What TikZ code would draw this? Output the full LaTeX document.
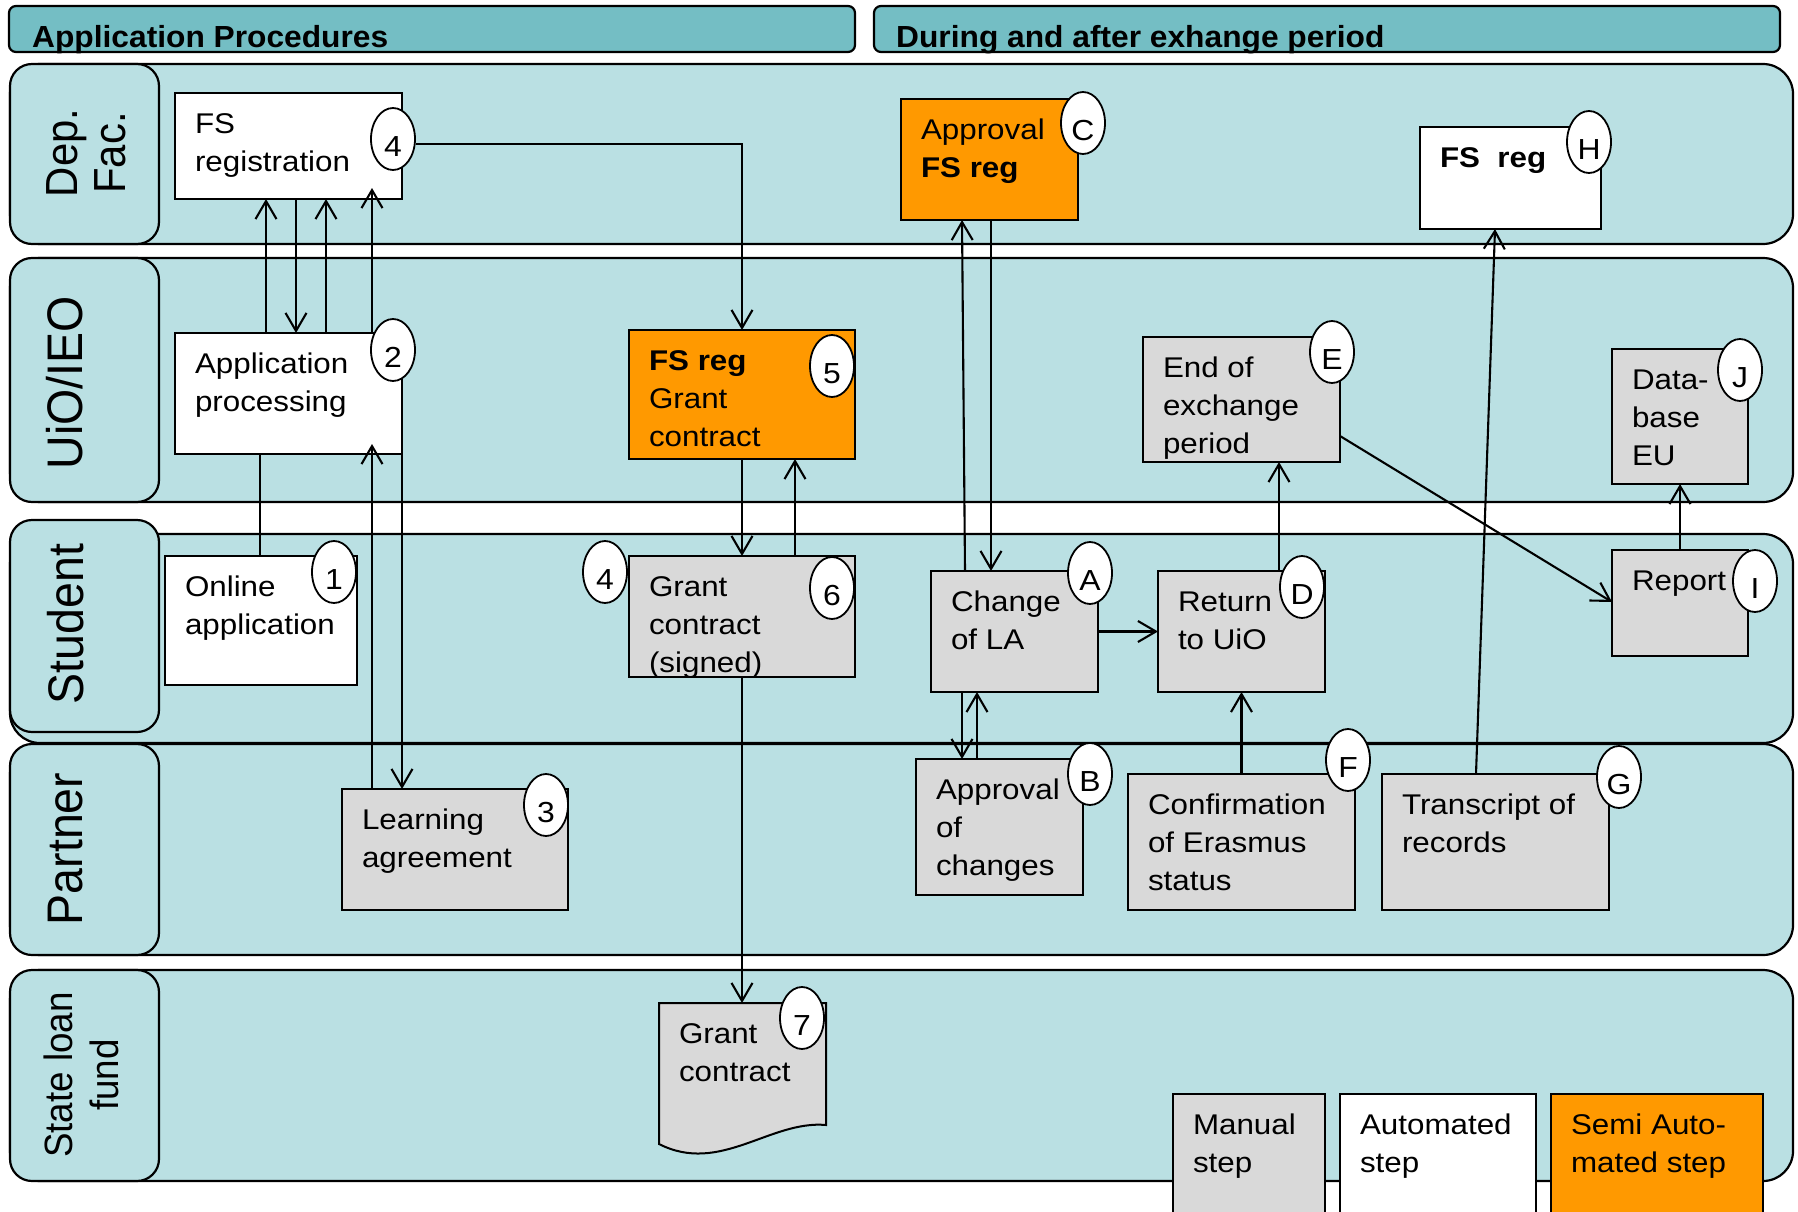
\documentclass[tikz,border=0pt]{standalone}
\usepackage{fontspec}
\setmainfont{Liberation Sans}
\newfontfamily\boxfont{Liberation Sans}[FakeStretch=1.1]
\newfontfamily\rotfont{Liberation Sans}[FakeStretch=0.93]
\newfontfamily\headfont{Liberation Sans}[FakeStretch=1.04]
\usetikzlibrary{arrows.meta,calc,shapes.geometric}
\definecolor{lanec}{HTML}{BAE0E3}
\definecolor{headc}{HTML}{74BEC4}
\definecolor{greyc}{HTML}{D9D9D9}
\definecolor{orangec}{HTML}{FF9900}
\tikzset{
  lane/.style={draw=black, line width=2.2pt, fill=lanec, rounded corners=30pt},
  lbl/.style={draw=black, line width=2.2pt, fill=lanec, rounded corners=22pt},
  head/.style={draw=black, line width=2.2pt, fill=headc, rounded corners=7pt},
  stepbox/.style={draw=black, line width=2pt, inner sep=0pt, outer sep=0pt, anchor=north west},
  txt/.style={anchor=north west, inner sep=0pt, outer sep=0pt, align=left, font=\boxfont\fontsize{28.5}{38}\selectfont},
  badge/.style={ellipse, draw=black, line width=1.8pt, fill=white, inner sep=0pt, minimum width=44pt, minimum height=62pt, font=\boxfont\fontsize{29}{34}\selectfont, text height=34pt, text depth=0pt},
  arr/.style={line width=2.1pt, -{Straight Barb[length=18pt,width=21pt]}},
  ln/.style={line width=2.1pt},
  rotl/.style={rotate=90, inner sep=0pt},
  htext/.style={anchor=base west, inner sep=0pt, font=\headfont\bfseries\fontsize{30.5}{36}\selectfont}
}
\newcommand{\mkbox}[6]{\node[stepbox, fill=#2, minimum width={#5-#3}, minimum height={#6-#4}] (#1) at (#3,#4) {};}
\newcommand{\mktxt}[2]{\node[txt] (#1t) at ([shift={(20,15)}]#1.north west) {\rule{0pt}{25pt}#2};}
\begin{document}
\begin{tikzpicture}[x=1pt,y=-1pt]
\useasboundingbox (0,0) rectangle (1798,1212);
\clip (0,0) rectangle (1798,1212);
% headers
\draw[head] (9,6) rectangle (855,52);
\draw[head] (874,6) rectangle (1780,52);
\node[htext] (hl) at (32,48) {Application Procedures};
\node[htext] (hr) at (896,48) {During and after exhange period};
% lanes
\draw[lane] (10,64) rectangle (1793,244);
\draw[lbl] (10,64) rectangle (159,244);
\draw[lane] (10,258) rectangle (1793,502);
\draw[lbl] (10,258) rectangle (159,502);
\draw[lane] (10,534) rectangle (1793,743);
\draw[lbl] (10,520) rectangle (159,732);
\draw[lane] (10,744) rectangle (1793,955);
\draw[lbl] (10,744) rectangle (159,955);
\draw[lane] (10,970) rectangle (1793,1181);
\draw[lbl] (10,970) rectangle (159,1181);
\node[rotl, align=center, font=\rotfont\fontsize{45}{48}\selectfont] (ldep) at (86,153) {Dep.\\Fac.};
\node[rotl, anchor=base, font=\rotfont\fontsize{50}{60}\selectfont] (luio) at (82,383) {UiO/IEO};
\node[rotl, anchor=base, font=\rotfont\fontsize{50}{60}\selectfont] (lstu) at (83,624) {Student};
\node[rotl, anchor=base, font=\rotfont\fontsize{50}{60}\selectfont] (lpar) at (82,849) {Partner};
\node[rotl, align=center, font=\rotfont\fontsize{39.5}{46}\selectfont] (lstate) at (81,1075) {State loan\\fund};
% boxes
\mkbox{fsreg}{white}{175}{93}{402}{199}
\mkbox{appproc}{white}{175}{333}{402}{454}
\mkbox{fsgrant}{orangec}{629}{330}{855}{459}
\mkbox{apprC}{orangec}{901}{99}{1078}{220}
\mkbox{fsH}{white}{1420}{127}{1601}{229}
\mkbox{endex}{greyc}{1143}{337}{1340}{462}
\mkbox{db}{greyc}{1612}{349}{1748}{484}
\mkbox{online}{white}{165}{556}{357}{685}
\mkbox{gsigned}{greyc}{629}{556}{855}{677}
\mkbox{la}{greyc}{342}{789}{568}{910}
\mkbox{chg}{greyc}{931}{571}{1098}{692}
\mkbox{ret}{greyc}{1158}{571}{1325}{692}
\mkbox{report}{greyc}{1612}{550}{1748}{656}
\mkbox{apch}{greyc}{916}{759}{1083}{895}
\mkbox{conf}{greyc}{1128}{774}{1355}{910}
\mkbox{trans}{greyc}{1382}{774}{1609}{910}
% document shape
\node[inner sep=0pt, outer sep=0pt, minimum width=167pt, minimum height=122pt, anchor=north west] (gc7) at (659,1003) {};
\draw[line width=2pt, fill=greyc] (gc7.north west) -- (gc7.north east) -- (gc7.south east)
  .. controls (770,1120) and (720,1175) .. (659,1144) -- cycle;
% texts
\mktxt{fsreg}{FS\\registration}
\mktxt{appproc}{Application\\processing}
\mktxt{fsgrant}{\textbf{FS reg}\\Grant\\contract}
\mktxt{apprC}{Approval\\\textbf{FS reg}}
\mktxt{fsH}{\textbf{FS\ \ reg}}
\mktxt{endex}{End of\\exchange\\period}
\mktxt{db}{Data-\\base\\EU}
\mktxt{online}{Online\\application}
\mktxt{gsigned}{Grant\\contract\\(signed)}
\mktxt{la}{Learning\\agreement}
\mktxt{gc7}{Grant\\contract}
\mktxt{chg}{Change\\of LA}
\mktxt{ret}{Return\\to UiO}
\mktxt{report}{Report}
\mktxt{apch}{Approval\\of\\changes}
\mktxt{conf}{Confirmation\\of Erasmus\\status}
\mktxt{trans}{Transcript of\\records}
% connectors
\draw[ln] (online.north -| 260,0) -- (appproc.south -| 260,0);
\draw[arr] (appproc.north -| 266,0) -- (fsreg.south -| 266,0);
\draw[arr] (fsreg.south -| 296,0) -- (appproc.north -| 296,0);
\draw[arr] (appproc.north -| 326,0) -- (fsreg.south -| 326,0);
\draw[arr] (appproc.north -| 372,0) -- ($(fsreg.south -| 372,0)+(0,-11)$);
\draw[arr] (la.north -| 372,0) -- ($(appproc.south -| 372,0)+(0,-10)$);
\draw[arr] (appproc.east |- 0,396) -- (la.north -| 402,0);
\draw[arr] (gsigned.north -| 795,0) -- (fsgrant.south -| 795,0);
\draw[arr] (fsgrant.south) -- (gsigned.north);
\draw[arr] (gsigned.south) -- (gc7.north -| gsigned.south);
\draw[arr] (chg.north -| 965,0) -- (apprC.south -| 962,0);
\draw[arr] (apprC.south -| 991,0) -- (chg.north -| 991,0);
\draw[arr] (chg.east) -- (ret.west);
\draw[arr] (chg.south -| 962,0) -- (apch.north -| 962,0);
\draw[arr] (apch.north -| 977,0) -- (chg.south -| 977,0);
\draw[arr] (conf.north) -- (ret.south);
\draw[arr] (ret.north -| 1279,0) -- (endex.south -| 1279,0);
\draw[arr] (endex.east |- 0,436) -- (report.west |- 0,602);
\draw[arr] (trans.north -| 1476,0) -- (fsH.south -| 1495,0);
\draw[arr] (report.north) -- (db.south);
% badges
\node[badge] (b4) at (393,139) {4};
\draw[arr] (b4.east |- 0,144) -| (fsgrant.north);
\node[badge] (b2) at (393,350) {2};
\node[badge] (b5) at (832,366) {5};
\node[badge] (bC) at (1083,123) {C};
\node[badge] (bH) at (1589,142) {H};
\node[badge] (bE) at (1332,352) {E};
\node[badge] (bJ) at (1740,370) {J};
\node[badge] (b1) at (334,572) {1};
\node[badge] (b4s) at (605,572) {4};
\node[badge] (b6) at (832,588) {6};
\node[badge] (b3) at (546,805) {3};
\node[badge] (b7) at (802,1018) {7};
\node[badge] (bA) at (1090,573) {A};
\node[badge] (bD) at (1302,587) {D};
\node[badge] (bI) at (1755,581) {I};
\node[badge] (bB) at (1090,774) {B};
\node[badge] (bF) at (1348,760) {F};
\node[badge] (bG) at (1619,777) {G};
% legend
\mkbox{leg1}{greyc}{1173}{1094}{1325}{1230}
\mkbox{leg2}{white}{1340}{1094}{1536}{1230}
\mkbox{leg3}{orangec}{1551}{1094}{1763}{1230}
\mktxt{leg1}{Manual\\step}
\mktxt{leg2}{Automated\\step}
\mktxt{leg3}{Semi Auto-\\mated step}
\end{tikzpicture}
\end{document}
